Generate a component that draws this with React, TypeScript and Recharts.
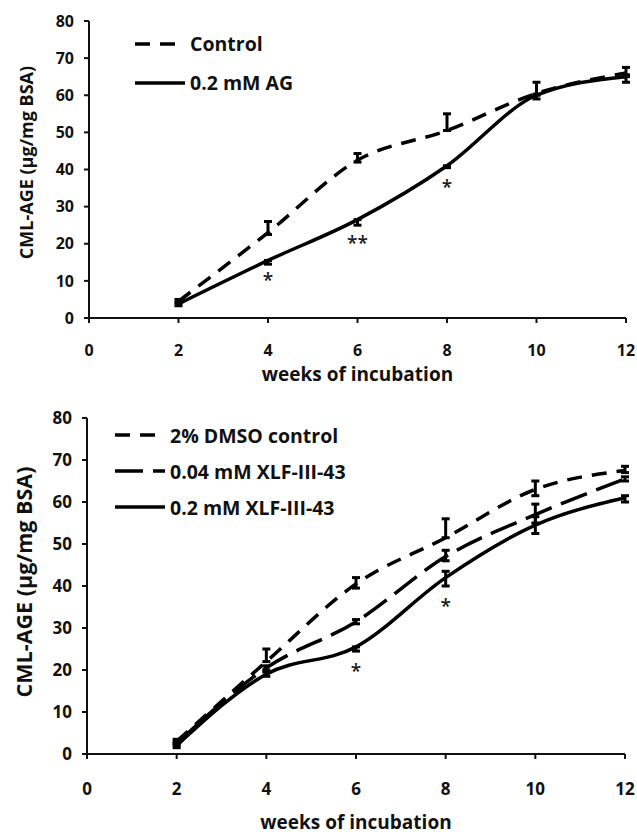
import { ComposedChart, Line, ErrorBar, Scatter, XAxis, YAxis, Legend, Label } from 'recharts'

// shared axes
const weeks = [2, 4, 6, 8, 10, 12]
const xTicks = [0, 2, 4, 6, 8, 10, 12]
const yTicks = [0, 10, 20, 30, 40, 50, 60, 70, 80]

// top panel: control vs aminoguanidine
const control = [4.5, 23, 42.5, 50.5, 60.5, 66]
const controlErr = [[0.5, 0.5], [0.5, 3], [0.5, 1.8], [0, 4.5], [0.5, 3], [0.5, 1.5]]
const ag = [3.8, 15.5, 26.5, 41, 60, 65]
const agErr = [[0.5, 0.5], [1, 0], [1.5, 0], [0.5, 0], [1, 0.3], [1.5, 0]]
const topStars = [
  { week: 4, y: 11, mark: '*' },
  { week: 6, y: 21, mark: '**' },
  { week: 8, y: 36, mark: '*' },
]

// bottom panel: DMSO control vs XLF-III-43
const dmso = [3, 22, 40.5, 51.5, 63, 67.5]
const dmsoErr = [[0.5, 0.5], [0, 3], [1, 1.5], [0, 4.5], [1.5, 2], [0.5, 1]]
const xlfLow = [2.5, 20.5, 31.5, 47, 57, 65.5]
const xlfLowErr = [[0.5, 0.5], [0.5, 0.5], [0.5, 0.5], [1, 1.5], [2, 2.5], [0.5, 0.5]]
const xlfHigh = [2, 19, 25.5, 42, 54.5, 61]
const xlfHighErr = [[0.5, 0.5], [0.5, 0.5], [1, 0], [2, 1.5], [2, 2], [1, 0.5]]
const bottomStars = [
  { week: 6, y: 20.5, mark: '*' },
  { week: 8, y: 36, mark: '*' },
]

const topData = weeks.map((week, i) => ({
  week, control: control[i], controlErr: controlErr[i], ag: ag[i], agErr: agErr[i],
}))

const bottomData = weeks.map((week, i) => ({
  week,
  dmso: dmso[i], dmsoErr: dmsoErr[i],
  xlfLow: xlfLow[i], xlfLowErr: xlfLowErr[i],
  xlfHigh: xlfHigh[i], xlfHighErr: xlfHighErr[i],
}))

const SHORT_DASH = '15 10'
const LONG_DASH = '28 10'

const topSeries = [
  { key: 'control', name: 'Control', dash: SHORT_DASH },
  { key: 'ag', name: '0.2 mM AG', dash: undefined },
]
const bottomSeries = [
  { key: 'dmso', name: '2% DMSO control', dash: SHORT_DASH },
  { key: 'xlfLow', name: '0.04 mM XLF-III-43', dash: LONG_DASH },
  { key: 'xlfHigh', name: '0.2 mM XLF-III-43', dash: undefined },
]

const axisLine = { stroke: '#111', strokeWidth: 2 }

function LegendBox({ items, rowH }: { items: { name: string; dash?: string }[]; rowH: number }) {
  return (
    <div>
      {items.map(it => (
        <div key={it.name} style={{ display: 'flex', alignItems: 'center', height: rowH }}>
          <svg width={50} height={6}>
            <line x1={0} y1={3} x2={50} y2={3} stroke="#000" strokeWidth={3.5} strokeDasharray={it.dash} />
          </svg>
          <span style={{ marginLeft: 5, fontSize: 19.5, fontWeight: 700, color: '#111' }}>{it.name}</span>
        </div>
      ))}
    </div>
  )
}

const starShape = (p: any) => (
  <text x={p.cx} y={p.cy} dy={10} textAnchor="middle" fontSize={19} fontWeight={600} fill="#1a1a1a">
    {p.payload.mark}
  </text>
)

function Panel({ data, series, stars, height, margin, yAxisWidth, xAxisHeight, xTickMargin, xTitleOffset, tickFont, yTitleFont, yLabelOffset, yLabelShift, legendPos, rowH }: any) {
  const tickStyle = { fontSize: tickFont, fontWeight: 700, fill: '#111' }
  return (
    <ComposedChart width={637} height={height} data={data} margin={margin}>
      <XAxis
        dataKey="week" type="number" domain={[0, 12]} ticks={xTicks}
        height={xAxisHeight} tick={tickStyle} axisLine={axisLine} tickLine={axisLine}
        tickSize={5} tickMargin={xTickMargin} interval={0}
      >
        <Label value="weeks of incubation" position="insideBottom" offset={xTitleOffset}
          style={{ fontSize: 19, fontWeight: 700, fill: '#111' }} />
      </XAxis>
      <YAxis
        type="number" domain={[0, 80]} ticks={yTicks} width={yAxisWidth}
        tick={tickStyle} axisLine={axisLine} tickLine={axisLine} tickSize={5} tickMargin={10} interval={0}
      >
        <Label value="CML-AGE (µg/mg BSA)" angle={-90} position="insideLeft" offset={yLabelOffset} dy={yLabelShift}
          style={{ textAnchor: 'middle', fontSize: yTitleFont, fontWeight: 700, fill: '#111' }} />
      </YAxis>
      <Legend
        layout="vertical" align="center" verticalAlign="middle"
        wrapperStyle={{ left: legendPos.left, top: legendPos.top, width: 320 }}
        content={() => <LegendBox items={series} rowH={rowH} />}
      />
      {series.map((s: any) => (
        <Line
          key={s.key} type="monotone" dataKey={s.key} name={s.name}
          stroke="#000" strokeWidth={3.5} strokeDasharray={s.dash}
          dot={false} activeDot={false} isAnimationActive={false}
        >
          <ErrorBar dataKey={`${s.key}Err`} width={4} strokeWidth={3} stroke="#000" />
        </Line>
      ))}
      <Scatter data={stars} dataKey="y" shape={starShape} isAnimationActive={false} legendType="none" />
    </ComposedChart>
  )
}

export default function App() {
  return (
    <div style={{ width: 637, fontFamily: "'Open Sans', sans-serif", background: '#fff' }}>
      <style>{'body{margin:0;background:#fff}'}</style>
      <Panel
        data={topData} series={topSeries} stars={topStars} height={390}
        margin={{ top: 21, right: 11, left: 0, bottom: 0 }}
        yAxisWidth={89} xAxisHeight={72} xTickMargin={22} xTitleOffset={9} tickFont={16}
        yTitleFont={18} yLabelOffset={27} yLabelShift={-7}
        legendPos={{ left: 135, top: 24 }} rowH={39}
      />
      <Panel
        data={bottomData} series={bottomSeries} stars={bottomStars} height={445}
        margin={{ top: 28, right: 12, left: 0, bottom: 0 }}
        yAxisWidth={87} xAxisHeight={81} xTickMargin={24} xTitleOffset={6} tickFont={17}
        yTitleFont={21.5} yLabelOffset={24} yLabelShift={-4}
        legendPos={{ left: 115, top: 27 }} rowH={36}
      />
    </div>
  )
}
